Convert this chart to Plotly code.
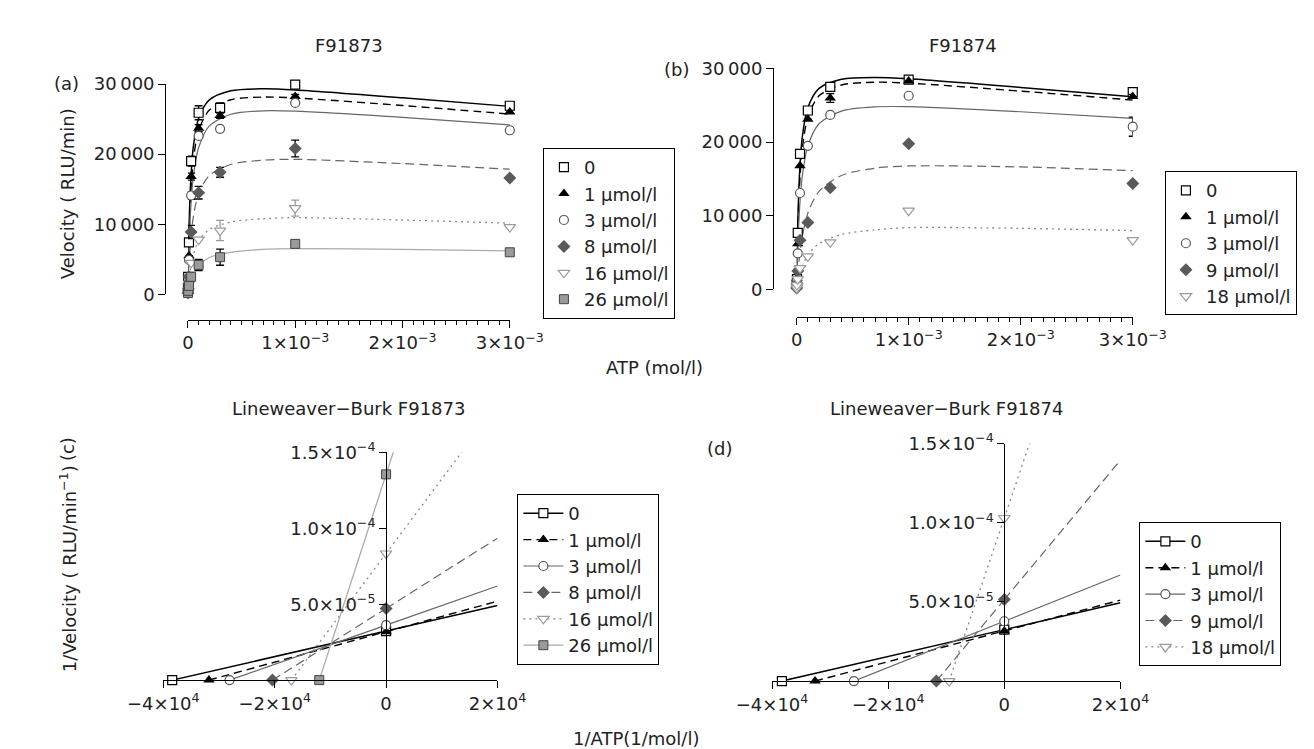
import plotly.graph_objects as go

# ---------------- data ----------------
ATP = [1e-6, 3e-6, 1e-5, 3e-5, 1e-4, 3e-4, 1e-3, 3e-3]

LABELS_A = ["0", "1 µmol/l", "3 µmol/l", "8 µmol/l", "16 µmol/l", "26 µmol/l"]
LABELS_B = ["0", "1 µmol/l", "3 µmol/l", "9 µmol/l", "18 µmol/l"]

# panel (a) measured velocities (RLU/min)
VA_0 = [900, 2500, 7400, 19000, 25900, 26600, 29900, 26900]
VA_1 = [600, 1800, 5500, 16800, 23700, 25500, 28200, 26000]
VA_3 = [500, 1500, 4900, 14100, 22600, 23600, 27300, 23400]
VA_8 = [200, 800, 2500, 8900, 14500, 17400, 20800, 16600]
VA_16 = [200, 500, 1500, 4500, 7800, 9100, 12300, 9600]
VA_26 = [200, 500, 1200, 2500, 4200, 5300, 7200, 6000]
# panel (a) error bars
EA_0 = [0, 0, 300, 700, 1000, 700, 0, 0]
EA_1 = [0, 0, 0, 500, 500, 400, 300, 0]
EA_3 = [0, 0, 0, 550, 0, 0, 0, 0]
EA_8 = [0, 0, 0, 950, 900, 700, 1200, 0]
EA_16 = [0, 0, 0, 0, 0, 1450, 1150, 0]
EA_26 = [0, 0, 0, 0, 800, 1150, 500, 0]

# panel (b) measured velocities
VB_0 = [700, 1400, 7700, 18400, 24300, 27500, 28500, 26800]
VB_1 = [500, 1500, 6200, 16800, 23100, 26000, 28300, 26200]
VB_3 = [400, 1200, 4900, 13100, 19500, 23700, 26300, 22100]
VB_9 = [200, 800, 2500, 6700, 9100, 13800, 19800, 14400]
VB_18 = [200, 600, 1400, 2900, 4500, 6400, 10700, 6700]
EB_0 = [0, 0, 0, 0, 0, 400, 300, 0]
EB_1 = [0, 0, 0, 0, 0, 600, 0, 300]
EB_3 = [0, 0, 0, 0, 0, 0, 0, 1300]
EB_9 = [0, 0, 0, 0, 0, 0, 0, 0]
EB_18 = [0, 0, 0, 0, 0, 0, 0, 0]

# fitted curves
CURVE_ATP = [0, 1e-5, 2.5e-5, 5e-5, 1e-4, 2e-4, 4e-4, 7e-4, 1e-3, 2e-3, 3e-3]
CA_0 = [0, 9000, 15750, 20970, 25100, 27730, 29040, 29310, 29150, 28040, 26810]
CA_1 = [0, 7625, 13860, 19060, 23370, 26290, 27760, 28140, 28010, 26930, 25710]
CA_3 = [0, 6330, 11880, 16760, 20950, 24030, 25680, 26180, 26130, 25250, 24180]
CA_8 = [0, 3800, 7460, 11000, 14380, 16950, 18520, 19140, 19260, 18650, 17850]
CA_16 = [0, 1800, 3670, 5610, 7610, 9250, 10320, 10780, 10930, 10600, 10150]
CA_26 = [0, 840, 1790, 2870, 4120, 5260, 6000, 6400, 6520, 6400, 6200]
CB_0 = [0, 8860, 15500, 20670, 24700, 27300, 28540, 28790, 28600, 27430, 26170]
CB_1 = [0, 7625, 13860, 19060, 23370, 26290, 27760, 28140, 28010, 26930, 25710]
CB_3 = [0, 5630, 10710, 15340, 19490, 22500, 24220, 24790, 24820, 24130, 23220]
CB_9 = [0, 2040, 4400, 7140, 10360, 13330, 15480, 16470, 16770, 16640, 16130]
CB_18 = [0, 850, 1880, 3130, 4690, 6250, 7460, 8100, 8400, 8300, 8000]

# Lineweaver-Burk intercepts: x-intercept (-1/Km) and y-intercept (1/Vmax)
LB_C_XINT = [-3.84e4, -3.18e4, -2.81e4, -2.04e4, -1.70e4, -1.20e4]
LB_C_YINT = [3.23e-5, 3.19e-5, 3.62e-5, 4.72e-5, 8.34e-5, 1.355e-4]
LB_D_XINT = [-3.83e4, -3.26e4, -2.59e4, -1.17e4, -0.95e4]
LB_D_YINT = [3.25e-5, 3.17e-5, 3.78e-5, 5.15e-5, 1.03e-4]

TOP_XTICKS = [0, 1e-3, 2e-3, 3e-3]
TOP_XTEXT = ["0", "1×10<sup>−3</sup>", "2×10<sup>−3</sup>", "3×10<sup>−3</sup>"]
TOP_YTICKS = [0, 10000, 20000, 30000]
TOP_YTEXT = ["0", "10\u2009000", "20\u2009000", "30\u2009000"]
LB_XTICKS = [-4e4, -2e4, 0, 2e4]
LB_XTEXT = ["−4×10<sup>4</sup>", "−2×10<sup>4</sup>", "0", "2×10<sup>4</sup>"]
LB_YTICKS = [5e-5, 1e-4, 1.5e-4]
LB_YTEXT = ["5.0×10<sup>−5</sup>", "1.0×10<sup>−4</sup>", "1.5×10<sup>−4</sup>"]

# ---------------- styles ----------------
W, H = 1314, 749
FONT = "DejaVu Sans, Liberation Sans, Arial"
FS = 18


def px(x):
    return x / W


def py(y):
    return 1 - y / H


MARK = [
    dict(symbol="square", color="white", size=9, line=dict(width=1.2, color="black")),
    dict(symbol="triangle-up", color="black", size=10, line=dict(width=0)),
    dict(symbol="circle", color="white", size=9, line=dict(width=1.2, color="#555555")),
    dict(symbol="diamond", color="#5a5a5a", size=10, line=dict(width=0)),
    dict(symbol="triangle-down", color="white", size=10, line=dict(width=1.2, color="#9a9a9a")),
    dict(symbol="square", color="#9a9a9a", size=9, line=dict(width=1, color="#444444")),
]
LINE = [
    dict(color="black", width=1.5, dash="solid"),
    dict(color="black", width=1.4, dash="8px,5px"),
    dict(color="#666666", width=1.2, dash="solid"),
    dict(color="#666666", width=1.2, dash="9px,5px"),
    dict(color="#888888", width=1.3, dash="2px,4px"),
    dict(color="#aaaaaa", width=1.3, dash="solid"),
]
EBCOL = ["black", "black", "black", "black", "#999999", "black"]

fig = go.Figure()

# ---------------- panels (a) & (b) ----------------
panels_top = [
    ("x", "y", "legend", LABELS_A, [VA_0, VA_1, VA_3, VA_8, VA_16, VA_26],
     [EA_0, EA_1, EA_3, EA_8, EA_16, EA_26], [CA_0, CA_1, CA_3, CA_8, CA_16, CA_26], [0, 1, 2, 3, 4, 5]),
    ("x2", "y2", "legend2", LABELS_B, [VB_0, VB_1, VB_3, VB_9, VB_18],
     [EB_0, EB_1, EB_3, EB_9, EB_18], [CB_0, CB_1, CB_3, CB_9, CB_18], [0, 1, 2, 3, 4]),
]
for xa, ya, leg, labels, vals, errs, curves, styles in panels_top:
    for lab, v, e, c, s in zip(labels, vals, errs, curves, styles):
        fig.add_trace(go.Scatter(
            x=CURVE_ATP, y=c, mode="lines", line=dict(**LINE[s], shape="spline", smoothing=0.8),
            xaxis=xa, yaxis=ya, showlegend=False, hoverinfo="skip"))
    for lab, v, e, c, s in zip(labels, vals, errs, curves, styles):
        fig.add_trace(go.Scatter(
            x=ATP, y=v, mode="markers", marker=MARK[s], name=lab,
            error_y=dict(type="data", array=e, visible=True, color=EBCOL[s], thickness=1.3, width=4),
            xaxis=xa, yaxis=ya, legend=leg, cliponaxis=False))

# ---------------- panels (c) & (d) ----------------
panels_lb = [
    ("x3", "y3", "legend3", LABELS_A, LB_C_XINT, LB_C_YINT, [0, 1, 2, 3, 4, 5]),
    ("x4", "y4", "legend4", LABELS_B, LB_D_XINT, LB_D_YINT, [0, 1, 2, 3, 4]),
]
XMAX_LB = 2e4
YMAX_LB = 1.52e-4
for xa, ya, leg, labels, xints, yints, styles in panels_lb:
    for lab, xi, yi, s in zip(labels, xints, yints, styles):
        slope = yi / (-xi)
        xend = min(XMAX_LB, (YMAX_LB - yi) / slope)
        yend = yi + slope * xend
        fig.add_trace(go.Scatter(
            x=[0, xend], y=[yi, yend], mode="lines", line=LINE[s],
            xaxis=xa, yaxis=ya, showlegend=False, hoverinfo="skip"))
        fig.add_trace(go.Scatter(
            x=[xi, 0], y=[0, yi], mode="lines+markers", line=LINE[s], marker=MARK[s],
            name=lab, xaxis=xa, yaxis=ya, legend=leg, cliponaxis=False))

# ---------------- axes ----------------
axcommon = dict(showline=True, linecolor="black", linewidth=1, ticks="outside", ticklen=7,
                tickwidth=1, tickcolor="black", showgrid=False, zeroline=False,
                tickfont=dict(family=FONT, size=FS, color="#222"), anchor="free", tickmode="array")
minor = dict(tickmode="linear", tick0=0, dtick=1e-4, ticks="outside", ticklen=4,
             tickcolor="black", showgrid=False)

layout = dict(
    width=W, height=H, margin=dict(l=0, r=0, t=0, b=0),
    paper_bgcolor="white", plot_bgcolor="white",
    font=dict(family=FONT, size=FS, color="#222"),
    xaxis=dict(axcommon, domain=[px(152), px(492)], range=[0, 3e-3], position=py(308),
               tickvals=TOP_XTICKS, ticktext=TOP_XTEXT, minor=minor),
    yaxis=dict(axcommon, domain=[py(282), py(65)], range=[0, 30000], position=px(128),
               tickvals=TOP_YTICKS, ticktext=TOP_YTEXT),
    xaxis2=dict(axcommon, domain=[px(795), px(1150)], range=[0, 3e-3], position=py(305),
                tickvals=TOP_XTICKS, ticktext=TOP_XTEXT, minor=minor),
    yaxis2=dict(axcommon, domain=[py(277), py(49)], range=[0, 30000], position=px(770),
                tickvals=TOP_YTICKS, ticktext=TOP_YTEXT),
    xaxis3=dict(axcommon, domain=[px(126), px(479)], range=[-4e4, 2e4], position=py(680),
                tickvals=LB_XTICKS, ticktext=LB_XTEXT),
    yaxis3=dict(axcommon, domain=[py(680), py(445)], range=[0, 1.5e-4], position=px(361.3),
                tickvals=LB_YTICKS, ticktext=LB_YTEXT),
    xaxis4=dict(axcommon, domain=[px(769), px(1137)], range=[-4e4, 2e4], position=py(681),
                tickvals=LB_XTICKS, ticktext=LB_XTEXT),
    yaxis4=dict(axcommon, domain=[py(681), py(436)], range=[0, 1.5e-4], position=px(1014.3),
                tickvals=LB_YTICKS, ticktext=LB_YTEXT),
)
legcommon = dict(bgcolor="white", bordercolor="black", borderwidth=1,
                 font=dict(family=FONT, size=FS, color="#222"), xanchor="left", yanchor="top",
                 tracegroupgap=0)
layout["legend"] = dict(legcommon, x=px(527), y=py(131), itemwidth=30)
layout["legend2"] = dict(legcommon, x=px(1184), y=py(155), itemwidth=30)
layout["legend3"] = dict(legcommon, x=px(500), y=py(488), itemwidth=40)
layout["legend4"] = dict(legcommon, x=px(1157), y=py(517), itemwidth=40)
fig.update_layout(**layout)

# ---------------- text ----------------
def ann(text, x, y, angle=0, size=FS):
    fig.add_annotation(text=text, x=px(x), y=py(y), xref="paper", yref="paper",
                       showarrow=False, textangle=angle, xanchor="center", yanchor="middle",
                       font=dict(family=FONT, size=size, color="#222"))


ann("F91873", 322, 25)
ann("F91874", 971, 25)
ann("Lineweaver−Burk F91873", 322, 400)
ann("Lineweaver−Burk F91874", 953, 400)
ann("(a)", 24, 64)
ann("(b)", 668, 50)
ann("(c)", 25, 442, angle=-90)
ann("(d)", 714, 441)
ann("Velocity ( RLU/min)", 25, 178, angle=-90)
ann("1/Velocity ( RLU/min<sup>−1</sup>)", 25, 565, angle=-90)
ann("ATP (mol/l)", 645, 357)
ann("1/ATP(1/mol/l)", 625, 740)

fig.write_html("out.html")
